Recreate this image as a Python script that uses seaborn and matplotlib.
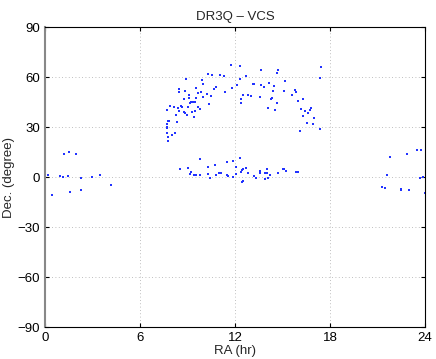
import matplotlib
matplotlib.use("Agg")
import matplotlib.pyplot as plt
import seaborn as sns
import pandas as pd

ra = [0.19, 0.44, 1.22, 1.49, 1.96, 0.97, 1.14, 1.43, 2.25, 1.58, 2.25, 2.97, 3.45, 4.15,
      21.77, 22.85, 23.48, 23.73, 21.62, 21.29, 21.46, 22.47, 22.51, 22.99, 23.69, 23.90, 23.98,
      8.53, 9.01, 9.24, 9.16, 9.43, 9.54, 9.79, 9.81, 10.28, 10.28, 10.42, 10.74, 10.78, 11.12,
      11.52, 11.58, 11.88, 11.86, 12.07, 12.09, 12.30, 12.38, 12.45, 12.53, 12.68, 12.51, 12.46,
      12.84, 13.18, 13.33, 13.60, 13.58, 13.92, 14.04, 14.02, 14.23, 13.92, 14.07, 14.70, 15.02,
      15.10, 15.24, 15.86, 15.98, 11.02, 11.50,
      7.73, 7.77, 7.75, 8.02, 8.19,
      10.28, 10.53, 11.07, 11.33, 8.91, 9.94, 9.96, 9.54, 10.78, 10.70, 8.46, 8.46, 8.84, 9.64,
      9.87, 11.39, 9.10, 10.23, 10.47, 9.98, 8.80, 9.08, 9.54, 9.24, 9.37, 9.49, 9.14, 10.34,
      7.90, 8.15, 8.61, 8.65, 9.03, 9.69, 8.40, 9.81, 7.73, 8.48, 8.78, 9.29, 9.45, 8.84, 8.99,
      8.29, 9.39, 7.83, 7.77, 8.32, 7.69, 7.71, 7.69,
      11.73, 12.32, 13.66, 14.74, 14.66, 17.41, 12.30, 12.70, 17.39, 15.16, 12.15, 13.14, 13.20,
      13.64, 14.15, 14.49, 13.83, 11.81, 14.40, 15.12, 15.77, 15.84, 12.49, 12.80, 13.03, 12.40,
      12.36, 13.56, 15.58, 14.34, 14.28, 14.66, 16.28, 15.98, 14.09, 14.53, 16.15, 16.40, 16.61,
      16.72, 16.80, 16.30, 16.97, 16.57, 16.91, 16.11, 17.39]
dec = [1.4, -10.6, 13.8, 15.2, 13.6, 0.8, 0.0, 0.4, -0.6, -9.0, -7.8, 0.2, 1.4, -5.0,
       11.8, 14.0, 16.0, 16.2, 1.4, -6.0, -6.4, -7.4, -8.0, -7.6, -0.4, 0.2, -9.8,
       5.0, 5.6, 3.2, 2.0, 1.0, 1.2, 11.0, 1.0, 5.8, 1.8, -0.4, 7.4, 1.4, 2.4,
       9.2, 0.8, 9.6, 0.0, 1.8, 6.0, 11.6, 2.8, 4.0, 4.8, 5.2, -2.4, -3.0,
       2.4, 0.8, -0.6, 3.6, 2.4, 2.4, 4.8, 2.4, 1.0, -1.4, -0.6, 2.4, 4.6,
       4.6, 3.6, 3.2, 3.2, 2.2, 1.4,
       26.2, 24.2, 21.8, 25.4, 26.2,
       61.8, 61.0, 61.0, 60.6, 58.6, 58.4, 55.8, 53.6, 54.2, 53.0, 52.6, 51.2, 51.6, 50.6,
       51.2, 51.2, 49.2, 49.8, 48.4, 47.8, 46.8, 47.2, 47.2, 45.2, 45.2, 45.2, 44.2, 43.8,
       42.8, 41.8, 42.8, 42.0, 42.0, 42.2, 41.2, 41.0, 40.2, 39.8, 39.2, 39.2, 39.6, 38.2, 37.2,
       37.0, 36.0, 33.8, 33.6, 33.2, 31.8, 30.2, 29.2,
       67.0, 66.4, 64.0, 64.0, 62.6, 66.2, 59.0, 60.8, 59.4, 57.6, 55.2, 56.0, 55.6,
       55.2, 56.6, 54.6, 54.0, 53.4, 51.4, 51.8, 52.0, 51.0, 49.2, 49.2, 48.6, 46.8,
       44.6, 47.8, 49.0, 47.2, 46.6, 44.6, 47.0, 45.8, 41.4, 40.4, 40.8, 39.6, 38.6,
       40.2, 41.4, 36.8, 35.4, 32.4, 31.6, 27.8, 28.8]

df = pd.DataFrame({"ra": ra, "dec": dec})

sns.set_style("white")
plt.rcParams['font.family'] = ['Liberation Sans', 'DejaVu Sans']

fig = plt.figure(figsize=(4.36, 3.59), dpi=100)
ax = fig.add_axes([45/436, 1-327/359, 380/436, 300/359])
sns.scatterplot(data=df, x="ra", y="dec", ax=ax, color="#2233ff", marker="s",
                s=4, linewidth=0, legend=False)
ax.set_xlim(0, 24)
ax.set_ylim(-90, 90)
ax.set_xticks([0, 6, 12, 18, 24])
ax.set_yticks([-90, -60, -30, 0, 30, 60, 90])
ax.set_yticklabels(["\u221290", "\u221260", "\u221230", "0", "30", "60", "90"])
ax.grid(True, linestyle=(0, (1, 3)), color="#aaaaaa", linewidth=0.6)
ax.tick_params(direction="in", length=3, labelsize=9.5, colors="black",
               top=True, right=True, bottom=True, left=True)
for sp in ax.spines.values():
    sp.set_color("black")
    sp.set_linewidth(0.8)
ax.spines["left"].set_color("#888888")
ax.spines["left"].set_linewidth(1.5)
ax.set_xlabel("RA (hr)", fontsize=9.5, labelpad=1)
ax.set_ylabel("Dec. (degree)", fontsize=9.5, labelpad=2)
ax.set_title("DR3Q \u2013 VCS", fontsize=9.5, pad=5)
fig.savefig("out.png", dpi=100)
